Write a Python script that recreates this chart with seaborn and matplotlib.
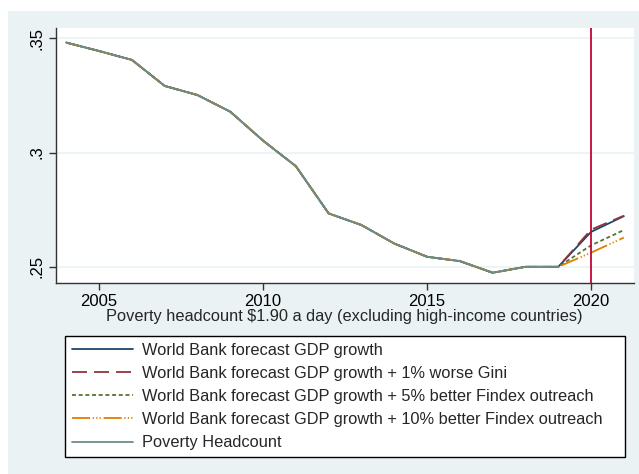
import matplotlib
matplotlib.use("Agg")
import matplotlib.pyplot as plt
import matplotlib.patches as mpatches
import seaborn as sns
import pandas as pd

sns.set_theme(style="white")
plt.rcParams["font.family"] = ["Liberation Sans", "DejaVu Sans"]

# Years covered by the series
years = list(range(2004, 2022))
hist_years = list(range(2004, 2020))

# Poverty headcount ratio, $1.90 a day (historical)
headcount = [0.3482, 0.3445, 0.3406, 0.3292, 0.3252, 0.3179, 0.3052, 0.2940,
             0.2733, 0.2682, 0.2601, 0.2543, 0.2524, 0.2473, 0.2499, 0.2499]

# Scenario paths (history + 2020/2021 projections)
wb_gdp = [0.3482, 0.3445, 0.3406, 0.3292, 0.3252, 0.3179, 0.3052, 0.2940,
          0.2733, 0.2682, 0.2601, 0.2543, 0.2524, 0.2473, 0.2499, 0.2499,
          0.2652, 0.2721]
wb_gini = [0.3482, 0.3445, 0.3406, 0.3292, 0.3252, 0.3179, 0.3052, 0.2940,
           0.2733, 0.2682, 0.2601, 0.2543, 0.2524, 0.2473, 0.2499, 0.2499,
           0.2662, 0.2723]
wb_findex5 = [0.3482, 0.3445, 0.3406, 0.3292, 0.3252, 0.3179, 0.3052, 0.2940,
              0.2733, 0.2682, 0.2601, 0.2543, 0.2524, 0.2473, 0.2499, 0.2499,
              0.2593, 0.2660]
wb_findex10 = [0.3482, 0.3445, 0.3406, 0.3292, 0.3252, 0.3179, 0.3052, 0.2940,
               0.2733, 0.2682, 0.2601, 0.2543, 0.2524, 0.2473, 0.2499, 0.2499,
               0.2561, 0.2627]

labels = [
    "World Bank forecast GDP growth",
    "World Bank forecast GDP growth + 1% worse Gini",
    "World Bank forecast GDP growth + 5% better Findex outreach",
    "World Bank forecast GDP growth + 10% better Findex outreach",
    "Poverty Headcount",
]
y_ticks = [0.25, 0.30, 0.35]
y_tick_labels = [".25", ".3", ".35"]
x_ticks = [2005, 2010, 2015, 2020]
marker_year = 2020

colors = ["#1a476f", "#90353b", "#55752f", "#e37e00", "#6e8e84"]
dash_styles = [
    (None, None),
    (8.3, 3.9),
    (2.2, 1.5),
    (10, 1.5, 0.7, 1.2, 0.7, 1.2, 0.7, 1.5),
    (None, None),
]

series = [
    (years, wb_gdp),
    (years, wb_gini),
    (years, wb_findex5),
    (years, wb_findex10),
    (hist_years, headcount),
]

W, H = 639, 474
fig = plt.figure(figsize=(W / 100, H / 100), dpi=100)
fig.patch.set_facecolor("white")
# graph region background
fig.patches.append(mpatches.Rectangle((8 / W, 0), 1 - 8 / W, 1 - 11 / H,
                                      transform=fig.transFigure,
                                      facecolor="#eaf2f3", edgecolor="none",
                                      zorder=-10))
# legend box
fig.patches.append(mpatches.Rectangle((65 / W, 1 - 456.5 / H),
                                      (624.5 - 65) / W, (456.5 - 335.7) / H,
                                      transform=fig.transFigure,
                                      facecolor="white", edgecolor="black",
                                      lw=1.0, zorder=-5))

ax = fig.add_axes([55.5 / W, 1 - 283 / H, (634 - 55.5) / W, (283 - 28) / H])
ax.set_facecolor("white")

handles = []
for (xs, ys), lab, col, dsh in zip(series, labels, colors, dash_styles):
    df = pd.DataFrame({"year": xs, "value": ys})
    sns.lineplot(data=df, x="year", y="value", ax=ax, color=col, lw=1.3)
    ln = ax.lines[-1]
    if dsh[0] is not None:
        ln.set_dashes(dsh)
    handles.append(ln)

ax.axvline(marker_year, color="#c10534", lw=1.3, zorder=5)

ax.set_xlim(2003.67, 2021.31)
ax.set_ylim(0.2428, 0.3546)
ax.set_yticks(y_ticks)
ax.set_yticklabels(y_tick_labels, rotation=90, va="center")
ax.set_xticks(x_ticks)
ax.set_xticklabels([str(t) for t in x_ticks])
ax.grid(axis="y", color="#eaf2f3", lw=1.2)
ax.set_axisbelow(True)

for side in ["top", "right"]:
    ax.spines[side].set_visible(False)
for side in ["left", "bottom"]:
    ax.spines[side].set_color("#333333")
    ax.spines[side].set_linewidth(1.0)

ax.tick_params(axis="both", which="major", length=5, width=1.0,
               color="#333333", labelsize=12, labelcolor="black",
               direction="out", pad=3, left=True, bottom=True)
ax.set_xlabel("Poverty headcount $1.90 a day (excluding high-income countries)",
              fontsize=11.8, labelpad=0)
ax.set_ylabel("")

leg = fig.legend(handles, labels, loc="upper left",
                 bbox_to_anchor=(72 / W, 1 - 342.5 / H),
                 bbox_transform=fig.transFigure,
                 fontsize=11.8, frameon=False,
                 handlelength=3.7, handletextpad=0.6, labelspacing=0.5,
                 borderpad=0, borderaxespad=0)

fig.savefig("out.png", dpi=100, facecolor=fig.get_facecolor())
